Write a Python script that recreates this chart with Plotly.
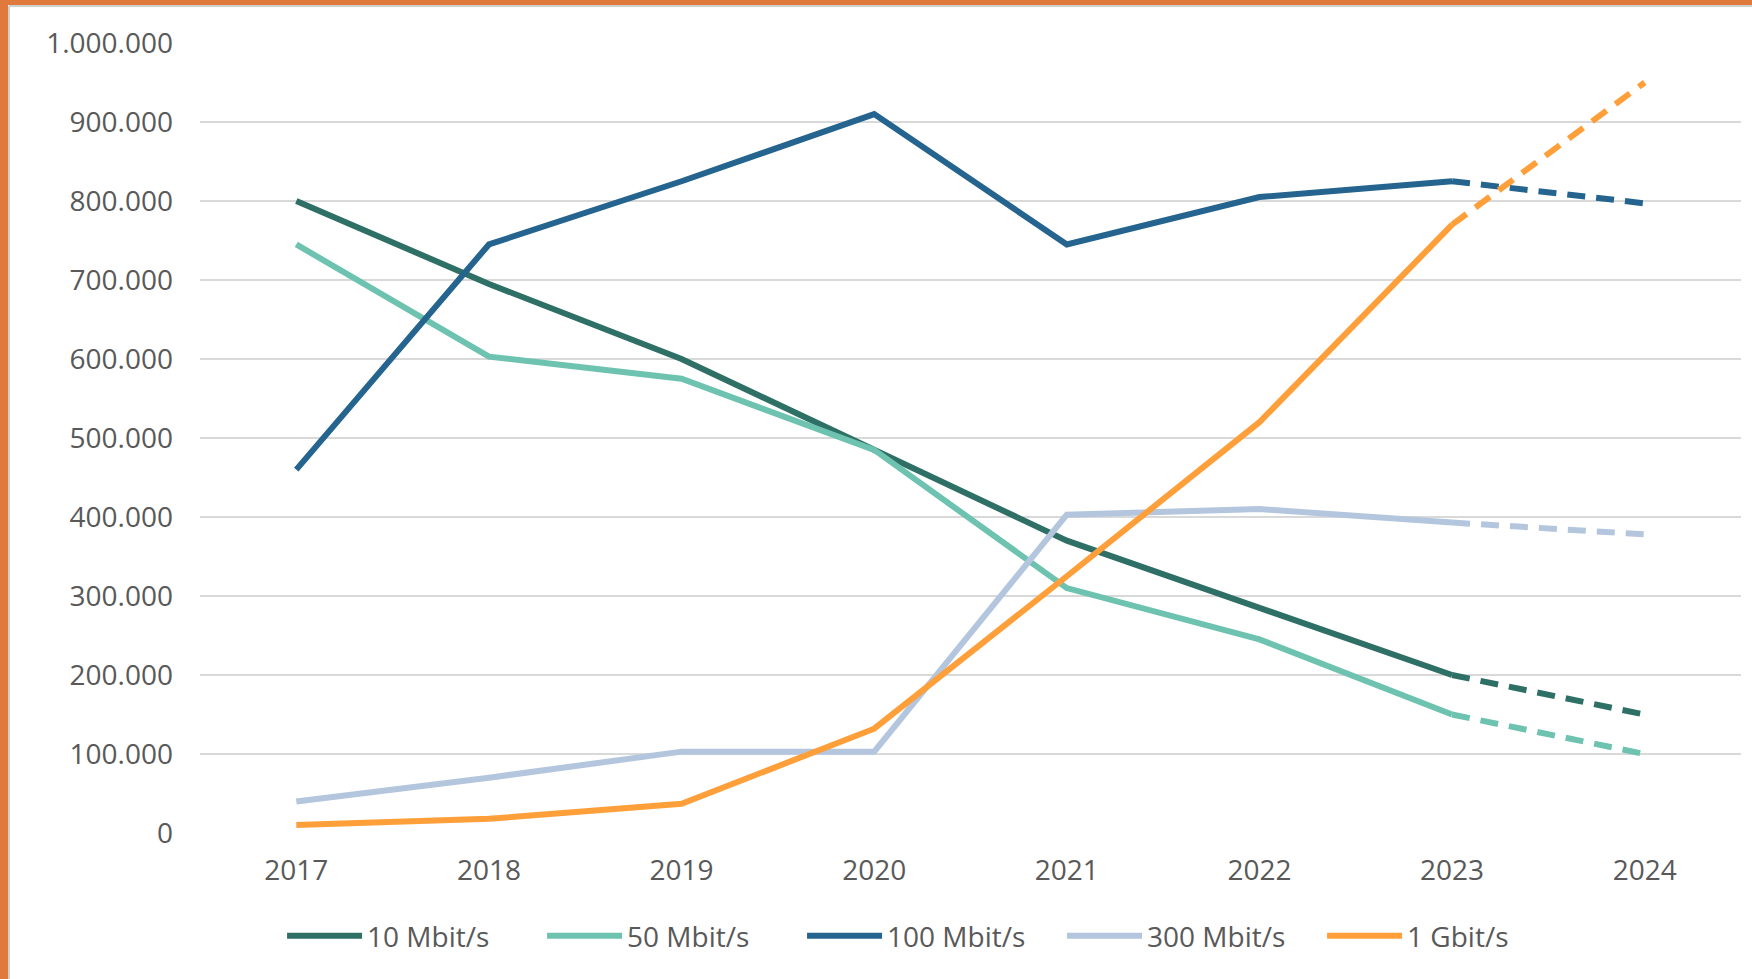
import plotly.graph_objects as go

years = ["2017", "2018", "2019", "2020", "2021", "2022", "2023", "2024"]
series_names = ["10 Mbit/s", "50 Mbit/s", "100 Mbit/s", "300 Mbit/s", "1 Gbit/s"]
mbit10 = [800000, 695000, 600000, 485000, 370000, 285000, 200000, 150000]
mbit50 = [745000, 603000, 575000, 485000, 310000, 245000, 150000, 100000]
mbit100 = [460000, 745000, 825000, 910000, 745000, 805000, 825000, 797000]
mbit300 = [40000, 70000, 103000, 103000, 403000, 410000, 393000, 378000]
gbit1 = [10000, 18000, 37000, 132000, 325000, 520000, 770000, 950000]
colors = ["#2E6F66", "#6EC3B0", "#24648F", "#B3C6DE", "#FF9F3A"]
tick_vals = [0, 100000, 200000, 300000, 400000, 500000, 600000, 700000, 800000, 900000, 1000000]
tick_text = ["0", "100.000", "200.000", "300.000", "400.000", "500.000",
             "600.000", "700.000", "800.000", "900.000", "1.000.000"]

all_series = [mbit10, mbit50, mbit100, mbit300, gbit1]

W, H = 1752, 979
L, R, T, B = 200, 11, 43, 146
pw, ph = W - L - R, H - T - B

fig = go.Figure()
for name, vals, col in zip(series_names, all_series, colors):
    fig.add_trace(go.Scatter(
        x=years[:7], y=vals[:7], mode="lines", name=name, legendgroup=name,
        line=dict(color=col, width=6), hoverinfo="skip"))
    fig.add_trace(go.Scatter(
        x=years[6:], y=vals[6:], mode="lines", name=name, legendgroup=name,
        showlegend=False, line=dict(color=col, width=6, dash="18px,11px"),
        hoverinfo="skip"))

def px_x(p):
    return (p - L) / pw

def px_y(p):
    return (H - B - p) / ph

font_col = "#595959"
fnt = "Open Sans, sans-serif"
fig.update_layout(
    width=W, height=H,
    margin=dict(l=L, r=R, t=T, b=B),
    paper_bgcolor="white", plot_bgcolor="white",
    font=dict(family=fnt, size=28, color=font_col),
    showlegend=True,
    legend=dict(orientation="h", xref="container", yref="container",
                x=0.532, xanchor="center", y=1 - 936 / H, yanchor="middle",
                font=dict(family=fnt, size=28, color=font_col), itemwidth=75,
                entrywidth=170, entrywidthmode="pixels",
                traceorder="normal", tracegroupgap=0),
    xaxis=dict(type="category", range=[-0.5, 7.5], showgrid=False,
               zeroline=False, showline=False, ticks="",
               tickfont=dict(family=fnt, size=28, color=font_col), ticklabelstandoff=18),
    yaxis=dict(range=[0, 1000000], tickvals=tick_vals, ticktext=tick_text,
               showgrid=True, gridcolor="#D9D9D9", gridwidth=2,
               zeroline=False, showline=False, ticks="",
               tickfont=dict(family=fnt, size=28, color=font_col), ticklabelstandoff=26),
    shapes=[
        dict(type="rect", xref="paper", yref="paper",
             x0=px_x(0), x1=px_x(W), y0=px_y(5), y1=px_y(0),
             fillcolor="#E07A3C", line=dict(width=0), layer="above"),
        dict(type="rect", xref="paper", yref="paper",
             x0=px_x(0), x1=px_x(8), y0=px_y(H), y1=px_y(0),
             fillcolor="#E07A3C", line=dict(width=0), layer="above"),
        dict(type="line", xref="paper", yref="paper",
             x0=px_x(9), x1=px_x(W), y0=px_y(6), y1=px_y(6),
             line=dict(color="#D0D0D0", width=2), layer="above"),
        dict(type="line", xref="paper", yref="paper",
             x0=px_x(9), x1=px_x(9), y0=px_y(H), y1=px_y(6),
             line=dict(color="#D0D0D0", width=2), layer="above"),
    ],
)

fig.write_html("out.html", config={"displayModeBar": False},
               post_script="document.body.style.margin='0';document.body.style.overflow='hidden';")
